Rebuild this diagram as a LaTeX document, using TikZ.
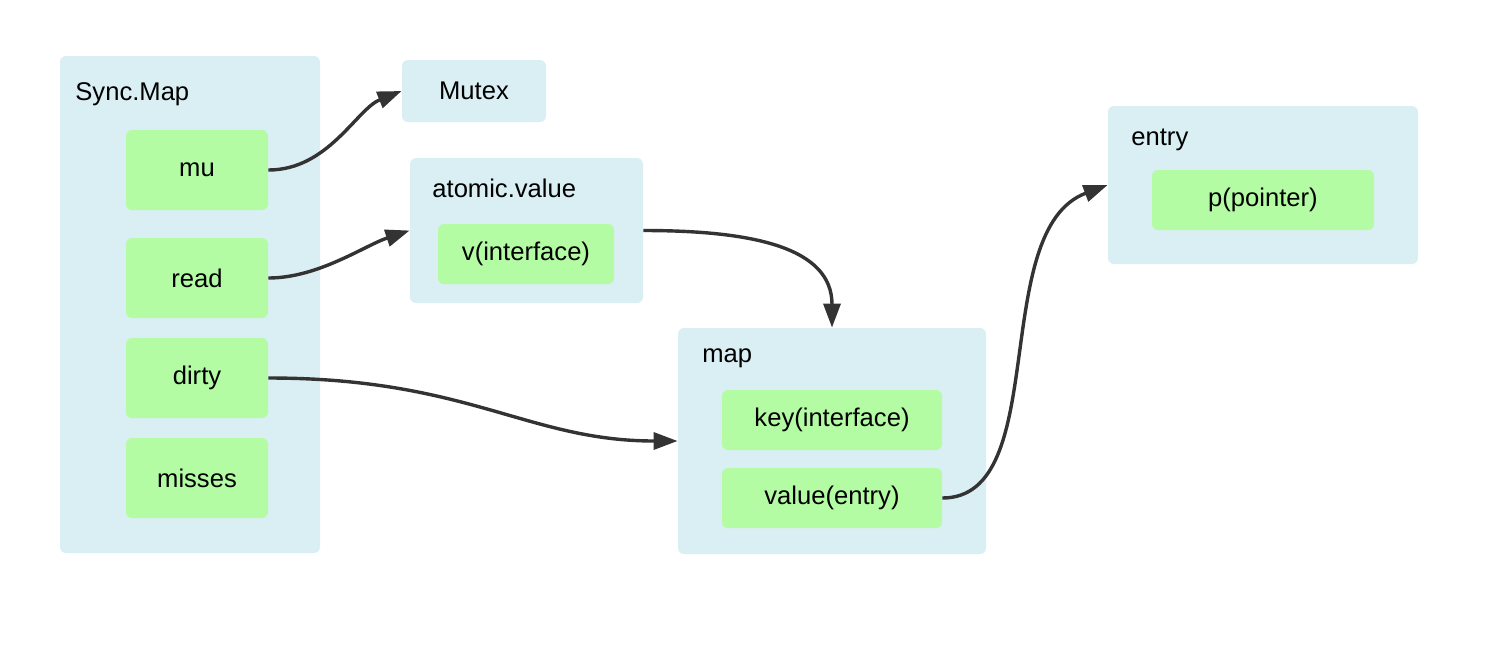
\documentclass[tikz,border=0pt]{standalone}
\usepackage{fontspec}
\setmainfont{Liberation Sans}
\usetikzlibrary{arrows.meta}
\definecolor{boxblue}{HTML}{D9EFF4}
\definecolor{fieldgreen}{HTML}{B3FCA4}
\definecolor{linkgray}{HTML}{333333}
\tikzset{
  container/.style={fill=boxblue, rounded corners=3pt, inner sep=0pt, font=\fontsize{12.8}{15}\selectfont},
  field/.style={fill=fieldgreen, rounded corners=3pt, inner sep=0pt, font=\fontsize{12.8}{15}\selectfont},
  heading/.style={anchor=west, inner sep=0pt, font=\fontsize{12.8}{15}\selectfont},
  link/.style={draw=linkgray, line width=1.7pt, -{Triangle[length=12pt,width=8.5pt]}}
}

\begin{document}
\begin{tikzpicture}[x=0.5pt, y=-0.5pt]
  \useasboundingbox (0,0) rectangle (1490,650);
  % outer boxes
  \node[container, minimum width=130pt, minimum height=248.5pt] (syncmap) at (190,304.5) {};
  \node[container, minimum width=72pt,  minimum height=31pt]    (mutex)   at (474,91)    {Mutex};
  \node[container, minimum width=116.5pt, minimum height=72.5pt] (atomic) at (526.5,230.5) {};
  \node[container, minimum width=154pt, minimum height=113pt]   (map)     at (832,441)   {};
  \node[container, minimum width=155pt, minimum height=79pt]    (entry)   at (1263,185)  {};
  % box titles
  \node[heading] (syncmaptitle) at (75,94)   {Sync.Map};
  \node[heading] (atomictitle)  at (432,188) {atomic.value};
  \node[heading] (maptitle)     at (702,358) {map};
  \node[heading] (entrytitle)   at (1131,140) {entry};
  % fields
  \node[field, minimum width=71pt, minimum height=40pt] (mu)     at (197,170) {mu};
  \node[field, minimum width=71pt, minimum height=40pt] (read)   at (197,278) {read};
  \node[field, minimum width=71pt, minimum height=40pt] (dirty)  at (197,378) {dirty};
  \node[field, minimum width=71pt, minimum height=40pt] (misses) at (197,478) {misses};
  \node[field, minimum width=88pt,  minimum height=30pt] (vinterface) at (526,254) {v(interface)};
  \node[field, minimum width=110pt, minimum height=30pt] (key)        at (832,420) {key(interface)};
  \node[field, minimum width=110pt, minimum height=30pt] (value)      at (832,498) {value(entry)};
  \node[field, minimum width=111pt, minimum height=30pt] (pointer)    at (1263,200) {p(pointer)};
  % links
  \draw[link] (mu.east)     .. controls +(60,0)  and +(-45,18) .. (mutex.west);
  \draw[link] (read.east)   .. controls +(50,0)  and +(-45,15) .. (atomic.west);
  \draw[link] (atomic.east) .. controls +(110,0) and +(0,-80)  .. (map.north);
  \draw[link] (dirty.east)  .. controls +(200,0) and +(-150,0) .. (map.west);
  \draw[link] (value.east)  .. controls +(110,0) and +(-120,45) .. (entry.west);
\end{tikzpicture}
\end{document}
